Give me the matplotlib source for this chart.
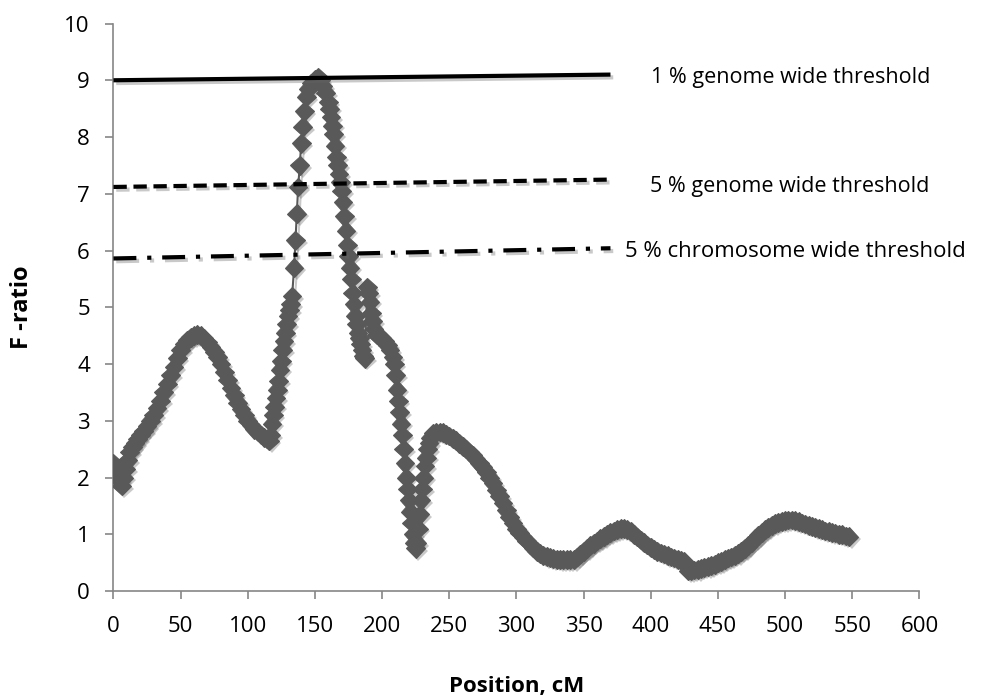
import matplotlib
matplotlib.use('Agg')
import matplotlib.pyplot as plt
import matplotlib.patheffects as pe

# F-ratio profile (position in cM, F-ratio)
pos = [0, 1.5, 3, 4.5, 6, 7.5, 9, 10.5, 12, 14, 16, 18, 20, 22.5, 25, 27.5, 30, 32.5, 35, 37.5,
       40, 42.5, 45, 47.5, 50, 52.5, 55, 57.5, 60, 62.5, 65, 67.5, 70, 72.5, 75, 77.5, 80, 82.5,
       85, 87.5, 90, 92.5, 95, 97.5, 100, 102.5, 105, 107.5, 110, 112, 114, 116,
       117, 118, 119, 120, 121, 122, 123, 124, 125, 126, 127, 128, 129, 130, 131, 132, 133,
       134.5, 135.5, 136.5, 137.5, 138.7, 139.8, 140.8, 142, 143.5, 145, 147, 150, 152.5,
       154, 156, 158, 160, 161, 162, 163, 164, 165, 166, 167, 168, 169, 170, 171, 172, 173,
       174, 175, 176, 177, 178, 179, 180, 181, 182, 183, 184, 185, 186, 187,
       189, 190, 191, 192, 193, 194, 196, 198, 200, 202, 204, 206, 208, 209,
       210, 211, 212, 213, 214, 215, 216, 217, 218, 219, 220, 221, 222, 223, 224, 225,
       226, 227, 228, 229, 230, 231, 232, 233, 234, 235, 236, 238, 240, 243, 245, 247.5,
       250, 252.5, 255, 257.5, 260, 262.5, 265, 267.5, 270, 272.5, 275, 277.5, 280, 282.5,
       285, 287.5, 290, 292.5, 295, 297.5, 300, 302.5, 305, 307.5, 310, 312.5, 315, 317.5,
       320, 322.5, 325, 327.5, 330, 332.5, 335, 337.5, 340, 343, 345, 347.5, 350, 352.5,
       355, 357.5, 360, 362.5, 365, 367.5, 370, 372.5, 375, 377.5, 380, 382.5, 385, 387.5,
       390, 392.5, 395, 397.5, 400, 402.5, 405, 407.5, 410, 412.5, 415, 417.5, 420, 422.5,
       425, 428, 430, 432.5, 435, 437.5, 440, 442.5, 445, 447.5, 450, 452.5, 455, 457.5,
       460, 462.5, 465, 467.5, 470, 472.5, 475, 477.5, 480, 482.5, 485, 487.5, 490, 492.5,
       495, 497.5, 500, 502.5, 505, 507.5, 510, 512.5, 515, 517.5, 520, 522.5, 525, 527.5,
       530, 532.5, 535, 537.5, 540, 542.5, 545, 547.5]
f_ratio = [2.25, 2.15, 2.05, 1.95, 1.85, 2.0, 2.15, 2.3, 2.45, 2.53, 2.6, 2.68, 2.75, 2.82, 2.9, 3.0, 3.1, 3.22, 3.35, 3.5,
           3.65, 3.8, 3.95, 4.1, 4.25, 4.35, 4.42, 4.47, 4.5, 4.52, 4.5, 4.45, 4.38, 4.3, 4.22, 4.12, 4.0, 3.86,
           3.72, 3.58, 3.45, 3.32, 3.2, 3.1, 3.0, 2.92, 2.85, 2.8, 2.75, 2.71, 2.68, 2.65,
           2.75, 2.95, 3.1, 3.25, 3.4, 3.55, 3.7, 3.9, 4.05, 4.25, 4.4, 4.55, 4.7, 4.85, 4.95, 5.05, 5.2,
           5.7, 6.18, 6.65, 7.12, 7.5, 7.89, 8.18, 8.45, 8.71, 8.85, 8.95, 9.02, 9.05,
           9.0, 8.9, 8.78, 8.62, 8.5, 8.35, 8.2, 8.05, 7.85, 7.65, 7.5, 7.35, 7.2, 7.05, 6.85, 6.6, 6.35,
           6.1, 5.9, 5.7, 5.5, 5.25, 5.05, 4.85, 4.7, 4.55, 4.45, 4.35, 4.25, 4.15, 4.1,
           5.35, 5.25, 5.1, 4.9, 4.75, 4.62, 4.52, 4.48, 4.45, 4.4, 4.33, 4.25, 4.12, 4.0,
           3.8, 3.55, 3.35, 3.15, 2.95, 2.75, 2.5, 2.25, 2.0, 1.8, 1.6, 1.4, 1.2, 1.0, 0.85, 0.75,
           0.85, 1.1, 1.35, 1.6, 1.8, 2.0, 2.2, 2.35, 2.5, 2.6, 2.7, 2.78, 2.8, 2.8, 2.79, 2.76,
           2.73, 2.69, 2.65, 2.6, 2.55, 2.5, 2.45, 2.39, 2.32, 2.25, 2.18, 2.1, 2.0, 1.9,
           1.78, 1.67, 1.55, 1.42, 1.3, 1.2, 1.1, 1.02, 0.95, 0.88, 0.82, 0.76, 0.7, 0.66,
           0.63, 0.61, 0.59, 0.57, 0.56, 0.55, 0.55, 0.55, 0.55, 0.55, 0.6, 0.65, 0.7, 0.75,
           0.8, 0.84, 0.88, 0.92, 0.96, 1.0, 1.03, 1.06, 1.08, 1.1, 1.1, 1.08, 1.05, 1.0,
           0.95, 0.9, 0.85, 0.81, 0.77, 0.73, 0.7, 0.67, 0.65, 0.62, 0.6, 0.58, 0.56, 0.54,
           0.52, 0.35, 0.36, 0.37, 0.38, 0.4, 0.42, 0.43, 0.45, 0.47, 0.5, 0.52, 0.55, 0.58,
           0.6, 0.63, 0.66, 0.7, 0.75, 0.8, 0.86, 0.92, 0.98, 1.03, 1.08, 1.12, 1.16, 1.19,
           1.21, 1.23, 1.24, 1.25, 1.25, 1.24, 1.22, 1.2, 1.18, 1.16, 1.14, 1.12, 1.1, 1.08,
           1.06, 1.05, 1.03, 1.02, 1.0, 0.99, 0.97, 0.96]

# threshold lines (start and end points)
thr_x = [0, 370]
thr_1_genome = [9.0, 9.1]
thr_5_genome = [7.12, 7.25]
thr_5_chrom = [5.86, 6.04]
thr_labels = ['1 % genome wide threshold', '5 % genome wide threshold', '5 % chromosome wide threshold']

plt.rcParams['font.family'] = ['Open Sans', 'DejaVu Sans']

fig = plt.figure(figsize=(9.9, 7), dpi=100)
ax = fig.add_axes([0.1146, 0.1557, 0.8141, 0.8107])

grey = '#595959'
line_shadow = [pe.SimpleLineShadow(offset=(2, -2), shadow_color='0.4', alpha=0.35), pe.Normal()]
mark_shadow = [pe.SimplePatchShadow(offset=(2, -2), shadow_rgbFace='0.4', alpha=0.35), pe.Normal()]

ax.plot(pos, f_ratio, color=grey, linewidth=1.5, zorder=2, path_effects=line_shadow)
ax.plot(pos, f_ratio, linestyle='none', marker='D', markersize=9.5,
        markerfacecolor=grey, markeredgecolor=grey, markeredgewidth=0.8,
        zorder=3, path_effects=mark_shadow)

ax.plot(thr_x, thr_1_genome, color='black', linewidth=3, solid_capstyle='butt',
        zorder=4, path_effects=line_shadow)
ax.plot(thr_x, thr_5_genome, color='black', linewidth=3, linestyle=(0, (3.2, 1.6)),
        zorder=4, path_effects=line_shadow)
ax.plot(thr_x, thr_5_chrom, color='black', linewidth=3, linestyle=(0, (5.5, 2.6, 1, 2.6)),
        zorder=4, path_effects=line_shadow)

ax.text(400, 9.04, thr_labels[0], fontsize=15.5, va='center', ha='left')
ax.text(399.5, 7.12, thr_labels[1], fontsize=15.5, va='center', ha='left')
ax.text(381, 5.98, thr_labels[2], fontsize=16, va='center', ha='left')

ax.set_xlim(0, 600)
ax.set_ylim(0, 10)
ax.set_xticks(range(0, 601, 50))
ax.set_yticks(range(0, 11, 1))

for s in ['top', 'right']:
    ax.spines[s].set_visible(False)
for s in ['left', 'bottom']:
    ax.spines[s].set_color('#868686')
    ax.spines[s].set_linewidth(1.2)
ax.tick_params(axis='both', direction='out', length=6, width=1.2, color='#868686',
               labelsize=16, labelcolor='black')
ax.tick_params(axis='y', pad=11)
ax.tick_params(axis='x', pad=12)

ax.set_xlabel('Position, cM', fontsize=16, fontweight='bold', va='center')
ax.xaxis.set_label_coords(0.5, -0.169)
ax.set_ylabel('F -ratio', fontsize=17, fontweight='bold', va='center')
ax.yaxis.set_label_coords(-0.113, 0.5)

plt.savefig('out.png', dpi=100)
